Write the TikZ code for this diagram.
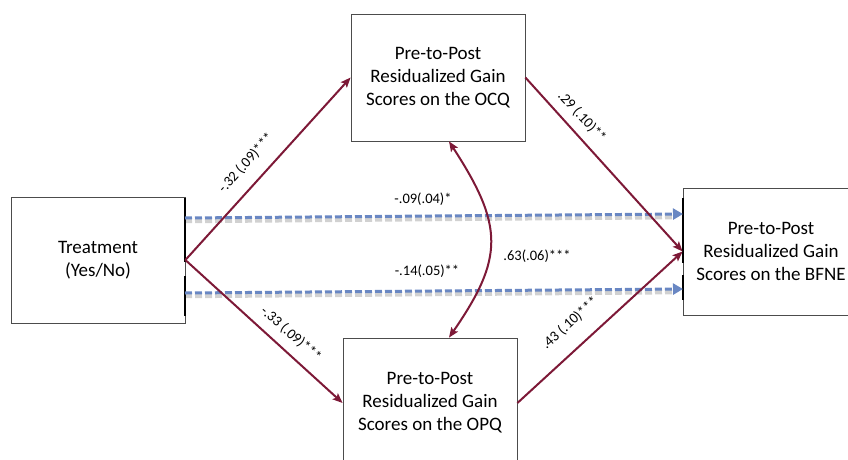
\documentclass[tikz,border=0pt]{standalone}
\usepackage{fontspec}
\setmainfont{Carlito}
\usetikzlibrary{arrows.meta}
\definecolor{maroon}{RGB}{125,25,55}
\definecolor{dblue}{RGB}{105,135,195}
\tikzset{
 box/.style={draw=black!70, line width=0.8pt, fill=white, minimum width=174pt, minimum height=127pt, align=center, font=\fontsize{19}{23}\selectfont, inner sep=0pt},
 rel/.style={draw=maroon, line width=2pt, -{Stealth[length=10pt,width=8pt,inset=2pt]}},
 rel2/.style={draw=maroon, line width=2pt, {Stealth[length=10pt,width=8pt,inset=2pt]}-{Stealth[length=10pt,width=8pt,inset=2pt]}},
 dsh/.style={draw=dblue, line width=3pt, dash pattern=on 7pt off 3pt, -{Triangle[length=10pt,width=11pt]}},
 shd/.style={draw=black, opacity=0.18, line width=4.5pt, dash pattern=on 7pt off 3pt},
 lbl/.style={font=\fontsize{14.5}{17}\selectfont, inner sep=1pt},
 edgeseg/.style={draw=black, line width=1.6pt},
}
\begin{document}
\begin{tikzpicture}[x=1pt,y=-1pt]
\useasboundingbox (0,0) rectangle (848,460);
\clip (0,0) rectangle (848,460);
% boxes
\node[box, minimum height=126pt] (treat) at (98,260) {Treatment\\(Yes/No)};
\node[box] (ocq) at (438,77.5) {Pre-to-Post\\Residualized Gain\\Scores on the OCQ};
\node[box, minimum width=176pt] (bfne) at (771,251.5) {Pre-to-Post\\Residualized Gain\\Scores on the BFNE};
\node[box, minimum height=130pt] (opq) at (430,403) {Pre-to-Post\\Residualized Gain\\Scores on the OPQ};
% thick edge segments
\draw[edgeseg] (185,198) -- (185,262);
\draw[edgeseg] (185,276) -- (185,316);
\draw[edgeseg] (683,198) -- (683,263);
\draw[edgeseg] (683,275) -- (683,300);
% dashed direct paths
\coordinate (d1a) at (185,218);
\coordinate (d1b) at (683,214);
\coordinate (d2a) at (185,293);
\coordinate (d2b) at (683,289);
\draw[shd, shorten >=10pt] ([yshift=-3pt]d1a) -- ([yshift=-3pt]d1b);
\draw[shd, shorten >=10pt] ([yshift=-3pt]d2a) -- ([yshift=-3pt]d2b);
\draw[dsh] (d1a) -- (d1b);
\draw[dsh] (d2a) -- (d2b);
% mediated paths
\draw[rel] (treat.east) -- (ocq.west);
\draw[rel] (treat.east) -- (opq.west);
\draw[rel] (ocq.east) -- (bfne.west);
\draw[rel] (opq.east) -- (bfne.west);
\draw[rel2] ([xshift=11pt]ocq.south) .. controls (504,226) and (504,258) .. ([xshift=19pt]opq.north);
% labels
\node[lbl, rotate=48] (l1) at (246,163) {-.32 (.09)***};
\node[lbl, rotate=-47] (l2) at (582,117) {.29 (.10)**};
\node[lbl, rotate=-41] (l3) at (291,334) {-.33 (.09)***};
\node[lbl, rotate=42] (l4) at (570,323) {.43 (.10)***};
\node[lbl] (l5) at (423,199) {-.09(.04)*};
\node[lbl] (l6) at (427,271) {-.14(.05)**};
\node[lbl] (l7) at (537,256) {.63(.06)***};
\end{tikzpicture}
\end{document}
